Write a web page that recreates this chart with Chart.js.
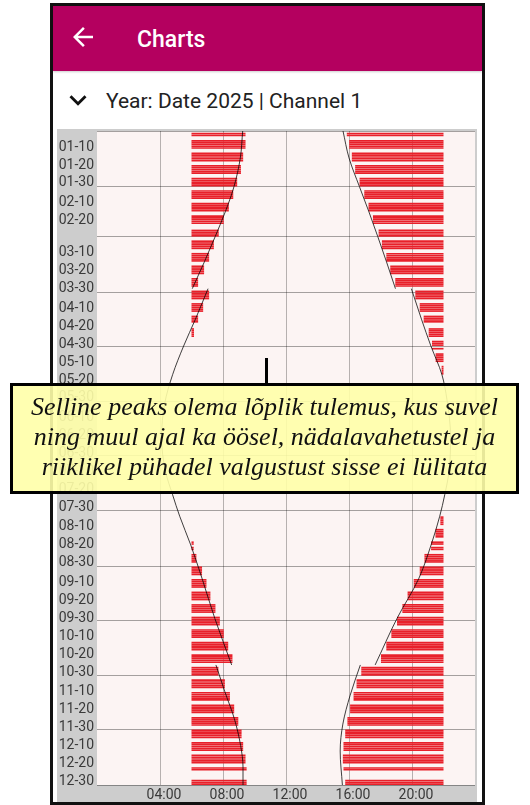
<!DOCTYPE html>
<html>
<head>
<meta charset="utf-8">
<script src="https://cdn.jsdelivr.net/npm/chart.js@4.4.1/dist/chart.umd.min.js"></script>
<style>
  html, body { margin: 0; padding: 0; background: #fff; width: 530px; height: 805px; overflow: hidden; font-family: Roboto, sans-serif; }
  #frame { position: absolute; left: 50px; top: 3px; width: 429px; height: 796px; border: 3px solid #111; background: #fff; }
  #header { position: absolute; left: 0; top: 0; width: 429px; height: 65px; background: #b4005f; box-shadow: 0 1px 2px rgba(0,0,0,0.2); }
  #back { position: absolute; left: 15px; top: 16px; }
  #title { position: absolute; left: 84px; top: 22px; color: #fff; font-size: 23px; font-weight: 500; line-height: 23px; }
  #chev { position: absolute; left: 8px; top: 77px; }
  #sub { position: absolute; left: 53px; top: 85px; color: #222; font-size: 21px; line-height: 21px; }
  #c { position: absolute; left: 4px; top: 123px; background: #cdcdcd; }
  #pointer { position: absolute; left: 265px; top: 358px; width: 3px; height: 26px; background: #000; }
  #note { position: absolute; left: 10px; top: 383px; width: 509px; height: 111px; box-sizing: border-box;
          border: 3px solid #000; background: rgba(255, 255, 168, 0.9); color: #111;
          font-family: 'Liberation Serif', serif; font-style: italic; font-size: 26px; line-height: 30px;
          text-align: center; padding-top: 6px; }
</style>
</head>
<body>
<div id="frame">
  <div id="header">
    <svg id="back" width="30" height="30" viewBox="0 0 24 24"><path fill="#fff" d="M20 11H7.83l5.59-5.59L12 4l-8 8 8 8 1.41-1.41L7.83 13H20v-2z"/></svg>
    <div id="title">Charts</div>
  </div>
  <svg id="chev" width="34" height="34" viewBox="0 0 24 24"><path fill="#111" d="M16.59 8.59L12 13.17 7.41 8.59 6 10l6 6 6-6z"/></svg>
  <div id="sub">Year: Date 2025 | Channel 1</div>
  <canvas id="c" width="420" height="673"></canvas>
</div>
<div id="pointer"></div>
<div id="note">Selline peaks olema lõplik tulemus, kus suvel<br>ning muul ajal ka öösel, nädalavahetustel ja<br>riiklikel pühadel valgustust sisse ei lülitata</div>

<script>
const year = 2025;
const lightsOnFrom = 6;   // 06:00
const lightsOffAt = 22;   // 22:00

// days without lighting besides weekends
const holidays = ['01-01', '02-24', '04-18', '04-20', '05-01', '06-08', '06-23', '06-24', '08-20', '12-24', '12-25', '12-26'];

// one value per week (Mon-Fri), week 1 = 30.12.2024 - 05.01.2025, hours of day
const morningOff = [9.43, 9.43, 9.28, 9.14, 8.90, 8.65, 8.37, 8.05, 7.73, 7.42, 7.12, 6.80, 6.42, 7.12, 6.74, 6.42, 6.16,
  null, null, null, null, null, null, null, null, null, null, null, null, null, null, null, null,
  6.14, 6.31, 6.67, 6.95, 7.20, 7.52, 7.80, 8.05, 8.33, 8.60, 7.71, 8.12, 8.44, 8.71, 8.97, 9.18, 9.28, 9.43, 9.50, 9.50];
const eveningOn = [15.86, 16.01, 16.18, 16.39, 16.67, 16.97, 17.24, 17.52, 17.88, 18.09, 18.37, 18.62, 18.94, 20.21, 20.49, 20.74, 21.06, 21.27, 21.50, 21.88,
  null, null, null, null, null, null, null, null, null, null, null,
  21.80, 21.49, 21.21, 20.79, 20.49, 20.11, 19.72, 19.39, 19.05, 18.69, 18.37, 18.03, 16.78, 16.48, 16.29, 16.07, 15.90, 15.76, 15.65, 15.61, 15.65, 15.76];

// sunrise / sunset curves (day of year, hours); null = summer time switch
const sunriseDays = [0, 15, 31, 45, 59, 73, 88, 88, 88, 105, 120, 136, 152, 171, 190, 203, 215, 231, 250, 272, 298, 298, 298, 313, 328, 343, 355, 365];
const sunriseHours = [9.25, 9.1, 8.7, 8.15, 7.5, 6.82, 6.05, null, 7.05, 6.25, 5.5, 4.8, 4.3, 4.1, 4.35, 4.8, 5.25, 5.95, 6.68, 7.48, 8.55, null, 7.55, 8.12, 8.72, 9.12, 9.27, 9.27];
const sunsetDays = [0, 15, 31, 45, 59, 73, 88, 88, 88, 105, 120, 136, 150, 171, 190, 203, 215, 230, 250, 272, 298, 298, 298, 315, 331, 346, 365];
const sunsetHours = [15.62, 16.0, 16.66, 17.26, 17.83, 18.38, 18.95, null, 19.96, 20.6, 21.2, 21.9, 22.22, 22.45, 22.35, 22.08, 21.76, 21.25, 20.42, 19.05, 17.66, null, 16.72, 16.07, 15.61, 15.44, 15.58];

const tickDates = ['01-10', '01-20', '01-30', '02-10', '02-20', '03-10', '03-20', '03-30', '04-10', '04-20', '04-30',
  '05-10', '05-20', '05-30', '06-10', '06-20', '06-30', '07-10', '07-20', '07-30', '08-10', '08-20', '08-30',
  '09-10', '09-20', '09-30', '10-10', '10-20', '10-30', '11-10', '11-20', '11-30', '12-10', '12-20', '12-30'];
const hourTicks = [4, 8, 12, 16, 20];

const dayOf = md => (Date.UTC(year, +md.slice(0, 2) - 1, +md.slice(3)) - Date.UTC(year, 0, 1)) / 864e5;
const holidayDays = holidays.map(dayOf);
const tickDays = tickDates.map(dayOf);
const monthStarts = [];
for (let m = 0; m <= 12; m++) monthStarts.push((Date.UTC(year, m, 1) - Date.UTC(year, 0, 1)) / 864e5);

const firstMonday = -2; // 01.01.2025 is a Wednesday
const morningBars = [], eveningBars = [];
morningOff.forEach(function(end, w) {
  for (let k = 0; k < 5; k++) {
    const d = firstMonday + 7 * w + k;
    if (d < 0 || d > 364 || holidayDays.includes(d)) continue;
    if (end != null) morningBars.push({y: d + 0.5, x: [lightsOnFrom, end]});
    if (eveningOn[w] != null) eveningBars.push({y: d + 0.5, x: [eveningOn[w], lightsOffAt]});
  }
});

const curve = (days, hrs) => days.map((d, i) => ({y: d, x: hrs[i]}));

const plotBg = {
  id: 'plotBg',
  beforeDraw(chart) {
    const {ctx, chartArea: a} = chart;
    ctx.save();
    ctx.fillStyle = '#fcf4f3';
    ctx.fillRect(a.left, a.top, a.right - a.left, a.bottom - a.top);
    ctx.restore();
  }
};

Chart.defaults.font.family = 'Roboto';
Chart.defaults.font.size = 14;
Chart.defaults.color = '#3a3a3a';

const lineStyle = {
  type: 'line', xAxisID: 'x', yAxisID: 'y', borderColor: 'rgba(0,0,0,0.75)', borderWidth: 1,
  pointRadius: 0, spanGaps: false, cubicInterpolationMode: 'monotone'
};

const noPad = s => { s.paddingTop = 0; s.paddingBottom = 0; s.paddingLeft = 0; s.paddingRight = 0; };

new Chart(document.getElementById('c').getContext('2d'), {
  type: 'bar',
  data: {
    datasets: [
      Object.assign({label: 'Sunrise', data: curve(sunriseDays, sunriseHours)}, lineStyle),
      Object.assign({label: 'Sunset', data: curve(sunsetDays, sunsetHours)}, lineStyle),
      {
        label: 'Morning', data: morningBars, xAxisID: 'x', yAxisID: 'y',
        backgroundColor: '#e8202a', grouped: false, barPercentage: 1, categoryPercentage: 0.92
      },
      {
        label: 'Evening', data: eveningBars, xAxisID: 'x', yAxisID: 'y',
        backgroundColor: '#e8202a', grouped: false, barPercentage: 1, categoryPercentage: 0.92
      }
    ]
  },
  options: {
    responsive: false,
    animation: false,
    indexAxis: 'y',
    layout: {padding: {top: 2, right: 2, left: 0, bottom: 0}},
    plugins: {legend: {display: false}, tooltip: {enabled: false}},
    scales: {
      x: {
        type: 'linear', position: 'bottom', min: 0, max: 24, offset: false,
        border: {display: false},
        grid: {
          drawTicks: false, offset: false,
          color: c => hourTicks.includes(c.tick.value) ? 'rgba(0,0,0,0.28)' : 'rgba(0,0,0,0)'
        },
        ticks: {
          stepSize: 4, padding: 2, labelOffset: 4, autoSkip: false, maxRotation: 0,
          callback: v => hourTicks.includes(v) ? String(v).padStart(2, '0') + ':00' : ''
        },
        afterFit: s => { noPad(s); s.height = 17; }
      },
      y: {
        type: 'linear', position: 'left', min: 0, max: 365, reverse: true, offset: false,
        border: {display: false},
        grid: {display: false, drawTicks: false, offset: false},
        ticks: {padding: 3, autoSkip: false, callback: (v, i) => tickDates[i]},
        afterBuildTicks: s => { s.ticks = tickDays.map(v => ({value: v})); },
        afterFit: s => { noPad(s); s.width = 40; }
      },
      m: {
        type: 'linear', position: 'left', min: 0, max: 365, reverse: true, offset: false,
        border: {display: false},
        grid: {drawTicks: false, offset: false, color: 'rgba(0,0,0,0.35)'},
        ticks: {display: false},
        afterBuildTicks: s => { s.ticks = monthStarts.map(v => ({value: v})); },
        afterFit: s => { noPad(s); s.width = 0; }
      }
    }
  },
  plugins: [plotBg]
});
</script>
</body>
</html>
